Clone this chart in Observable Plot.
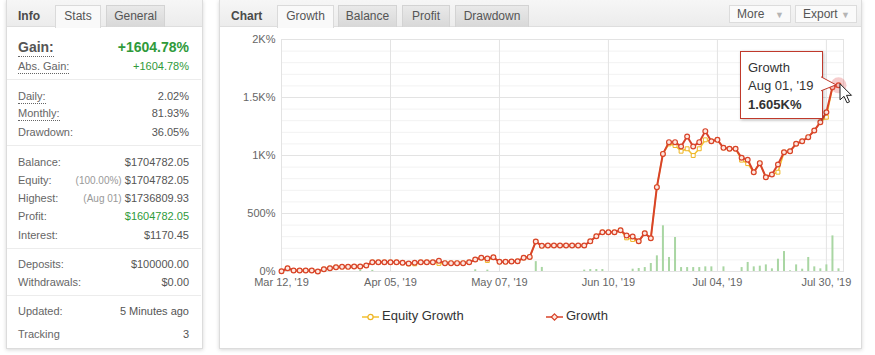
<!DOCTYPE html>
<html><head><meta charset="utf-8">
<script src="https://cdn.jsdelivr.net/npm/d3@7"></script>
<script src="https://cdn.jsdelivr.net/npm/@observablehq/plot@0.6"></script>
<style>
body{margin:0;width:875px;height:355px;background:#fff;font-family:"Liberation Sans",Arial,sans-serif;position:relative;overflow:hidden}
.abs{position:absolute}
.panel{position:absolute;background:#fff;border:1px solid #dcdcdc;box-shadow:0 1px 4px rgba(0,0,0,.16);box-sizing:border-box}
.band{position:absolute;height:27px;background:linear-gradient(#f6f6f6,#ececec);border-bottom:1px solid #dedede;box-sizing:border-box}
.htitle{position:absolute;top:9px;font-weight:bold;font-size:12px;color:#4a4a4a}
.tab{position:absolute;top:5px;height:22px;box-sizing:border-box;font-size:12px;color:#555;text-align:center;line-height:21px;border:1px solid #d3d3d3;border-bottom:none;background:linear-gradient(#e9e9e9,#d8d8d8)}
.tab.active{background:#f9f9f9;height:23px;border-color:#dadada}
.btn{position:absolute;top:5px;height:18px;box-sizing:border-box;font-size:12px;color:#555;line-height:16px;border:1px solid #dcdcdc;background:#fafafa;padding-left:7px}
.btn span{color:#b5b5b5;font-size:9px;position:absolute;right:6px;top:1px}
.row{position:absolute;left:18px;width:171px;height:15px;line-height:15px;font-size:11px;color:#666}
.row .v{position:absolute;right:0;top:0;color:#555}
.row .v i{font-style:normal;color:#999;font-size:10px}
.dot{border-bottom:1px dotted #666;padding-bottom:1px}
.sep{position:absolute;left:7px;width:194px;height:1px;background:#ececec}
.green{color:#2f9a3a !important}
#tip{position:absolute;background:#fff;border:1px solid #c0392b;box-shadow:1px 1px 3px rgba(0,0,0,.25);box-sizing:border-box;font-size:13px;color:#333;padding:7px 0 0 7px;line-height:18.5px}
.leg{position:absolute;top:308px;font-size:13px;color:#333;height:16px;line-height:16px}
.leg svg{vertical-align:middle;margin-right:3px}
</style></head>
<body>
<div class="panel" style="left:6px;top:0;width:197px;height:349px"></div>
<div class="band" style="left:7px;top:0;width:195px"></div>
<div class="htitle" style="left:18px">Info</div>
<div class="tab active" style="left:55px;width:46px">Stats</div>
<div class="tab" style="left:106px;width:59px">General</div>

<div class="row" style="top:38px;font-size:14px;height:18px;line-height:18px"><b class="dot" style="color:#555">Gain:</b><span class="v green" style="font-weight:bold;font-size:14px">+1604.78%</span></div>
<div class="row" style="top:59px"><span class="dot">Abs. Gain:</span><span class="v green">+1604.78%</span></div>
<div class="sep" style="top:79px"></div>
<div class="row" style="top:89px"><span class="dot">Daily:</span><span class="v">2.02%</span></div>
<div class="row" style="top:106px"><span class="dot">Monthly:</span><span class="v">81.93%</span></div>
<div class="row" style="top:125px">Drawdown:<span class="v">36.05%</span></div>
<div class="sep" style="top:145px"></div>
<div class="row" style="top:155px">Balance:<span class="v">$1704782.05</span></div>
<div class="row" style="top:173px">Equity:<span class="v"><i>(100.00%)</i> $1704782.05</span></div>
<div class="row" style="top:191px">Highest:<span class="v"><i>(Aug 01)</i> $1736809.93</span></div>
<div class="row" style="top:209px">Profit:<span class="v green">$1604782.05</span></div>
<div class="row" style="top:228px">Interest:<span class="v">$1170.45</span></div>
<div class="sep" style="top:248px"></div>
<div class="row" style="top:257px">Deposits:<span class="v">$100000.00</span></div>
<div class="row" style="top:275px">Withdrawals:<span class="v">$0.00</span></div>
<div class="sep" style="top:295px"></div>
<div class="row" style="top:304px">Updated:<span class="v">5 Minutes ago</span></div>
<div class="row" style="top:327px">Tracking<span class="v">3</span></div>

<div class="panel" style="left:219px;top:0;width:643px;height:349px"></div>
<div class="band" style="left:220px;top:0;width:641px"></div>
<div class="htitle" style="left:231px">Chart</div>
<div class="tab active" style="left:277px;width:57px">Growth</div>
<div class="tab" style="left:338px;width:59px">Balance</div>
<div class="tab" style="left:402px;width:48px">Profit</div>
<div class="tab" style="left:455px;width:74px">Drawdown</div>
<div class="btn" style="left:729px;width:62px">More<span>&#9660;</span></div>
<div class="btn" style="left:795px;width:62px">Export<span>&#9660;</span></div>

<div id="chart" class="abs" style="left:219px;top:30px"></div>

<div class="leg" style="left:362px"><svg width="17" height="10"><line x1="0" y1="5" x2="17" y2="5" stroke="#f3c02f" stroke-width="1.5"/><circle cx="8.5" cy="5" r="2.6" fill="#fff" stroke="#eeb422" stroke-width="1.2"/></svg>Equity Growth</div>
<div class="leg" style="left:546px"><svg width="17" height="10"><line x1="0" y1="5" x2="17" y2="5" stroke="#d8432a" stroke-width="1.5"/><path d="M8.5,1.8 L11.7,5 L8.5,8.2 L5.3,5 Z" fill="#fde8e0" stroke="#d8432a" stroke-width="1.2"/></svg>Growth</div>

<script>
// Growth (%) per data point (index = trading-day point)
const growth = [2,28,9,9,9,9,0,20,28,37, 40,40,43,43,52,80,80,80,80,80,
  75,69,75,80,80,80,92,72,72,72, 72,80,103,118,112,123,83,83,86,89,
  118,126,258,221,224,224,224,224,224,224, 224,260,304,339,339,339,356,310,302,261,
  330,287,727,1014,1115,1115,1078,1164,1078,1115, 1210,1123,1135,1066,1058,1058,980,963,856,934,
  813,836,922,1028,1037,1101,1123,1158,1215,1287, 1373,1589,1605];
// Equity Growth (%)
const equity = [2,28,9,9,9,9,0,20,28,37, 40,40,43,43,52,80,80,80,80,80,
  75,66,66,80,80,80,70,72,72,72, 72,80,103,118,95,123,83,83,86,89,
  118,126,258,221,224,224,224,224,224,224, 224,260,304,339,339,339,356,290,276,261,
  330,287,727,1014,1100,1086,1037,1058,1000,1058, 1135,1123,1135,1066,1058,1058,960,930,856,934,
  813,836,856,1028,1037,1101,1123,1158,1215,1287, 1330,1589,1605];
// green bars (point index, height in chart units)
const barIdx = [13,15,32,34,42,43,50,51,52,53,58,59,60,61,62,63,64,65,66,67,68,69,70,71,73,76,77,78,79,80,81,82,83,84,85,86,87,88,89,90,91,92];
const barVal = [12,10,15,12,85,35,12,17,17,17,20,26,34,69,135,394,121,293,34,34,34,34,40,40,40,34,78,40,46,57,23,106,172,6,57,20,121,40,23,57,307,23];
const xTickIdx = [0,18,36,54,72,90];
const xTickLabels = ["Mar 12, '19","Apr 05, '19","May 07, '19","Jun 10, '19","Jul 04, '19","Jul 30, '19"];
const yTicks = [0,500,1000,1500,2000];
const yTickLabels = ["0%","500%","1K%","1.5K%","2K%"];
const tipIndex = 92;
const tipSeries = "Growth", tipDate = "Aug 01, '19", tipValue = "1.605K%";

const gr = growth.map((v,i)=>({i,v}));
const eq = equity.map((v,i)=>({i,v}));
const bars = barIdx.map((i,k)=>({i, v: barVal[k]}));

const plot = Plot.plot({
  width: 642, height: 270,
  marginLeft: 62, marginRight: 18, marginTop: 9, marginBottom: 29,
  style: {fontFamily: "'Liberation Sans', Arial, sans-serif", fontSize: "11px", color: "#666", background: "transparent", overflow: "visible"},
  x: {domain: [0, 92], insetRight: 5},
  y: {domain: [0, 2000]},
  marks: [
    Plot.gridY(d3.range(0, 2001, 100), {stroke: "#f2f2f2", strokeOpacity: 1}),
    Plot.gridY(yTicks, {stroke: "#e3e3e3", strokeOpacity: 1}),
    Plot.gridX(xTickIdx, {stroke: "#e3e3e3", strokeOpacity: 1}),
    Plot.frame({stroke: "#e3e3e3"}),
    Plot.ruleX(bars, {x: "i", y1: 0, y2: "v", stroke: "#a9d6a3", strokeWidth: 2}),
    Plot.line(eq, {x: "i", y: "v", stroke: "#f3c02f", strokeWidth: 1.5}),
    Plot.dot(eq, {x: "i", y: "v", symbol: "square", r: 2.2, stroke: "#eeb422", fill: "#fff", strokeWidth: 1}),
    Plot.line(gr, {x: "i", y: "v", stroke: "#d8432a", strokeWidth: 2}),
    Plot.dot(gr, {x: "i", y: "v", r: 2.4, stroke: "#d8432a", fill: "#fde8e0", strokeWidth: 1.2}),
    Plot.dot([gr[tipIndex]], {x: "i", y: "v", r: 8, fill: "#e05555", fillOpacity: 0.3}),
    Plot.axisY(yTicks, {tickSize: 0, tickPadding: 6, label: null, tickFormat: v => yTickLabels[yTicks.indexOf(v)]}),
    Plot.axisX(xTickIdx, {tickSize: 0, tickPadding: 7, label: null, tickFormat: i => xTickLabels[xTickIdx.indexOf(i)]})
  ]
});
document.getElementById("chart").appendChild(plot);

// tooltip anchored to the hovered point via the plot's scales
const px = 219 + plot.scale("x").apply(tipIndex);
const py = 30 + plot.scale("y").apply(growth[tipIndex]);
const tip = document.createElement("div");
tip.id = "tip";
tip.style.left = (px - 98) + "px";
tip.style.top = (py - 34) + "px";
tip.style.width = "83px";
tip.style.height = "68px";
tip.innerHTML = `${tipSeries}<br>${tipDate}<br><b>${tipValue}</b>`;
document.body.appendChild(tip);
const ns = "http://www.w3.org/2000/svg";
const ov = document.createElementNS(ns, "svg");
ov.setAttribute("width", 875); ov.setAttribute("height", 355);
ov.style.position = "absolute"; ov.style.left = "0"; ov.style.top = "0"; ov.style.pointerEvents = "none";
const bx = px - 16;
ov.innerHTML = `<path d="M${bx-1},${py-8} L${px-2},${py} L${bx-1},${py+6}" fill="#fff" stroke="#c0392b" stroke-width="1"/>
<path transform="translate(${px+2},${py-1})" d="M0,0 L0,16 L4,12.5 L7,19 L9.5,18 L6.5,11.5 L11.5,11.5 Z" fill="#fff" stroke="#222" stroke-width="1"/>`;
document.body.appendChild(ov);
</script>
</body></html>
